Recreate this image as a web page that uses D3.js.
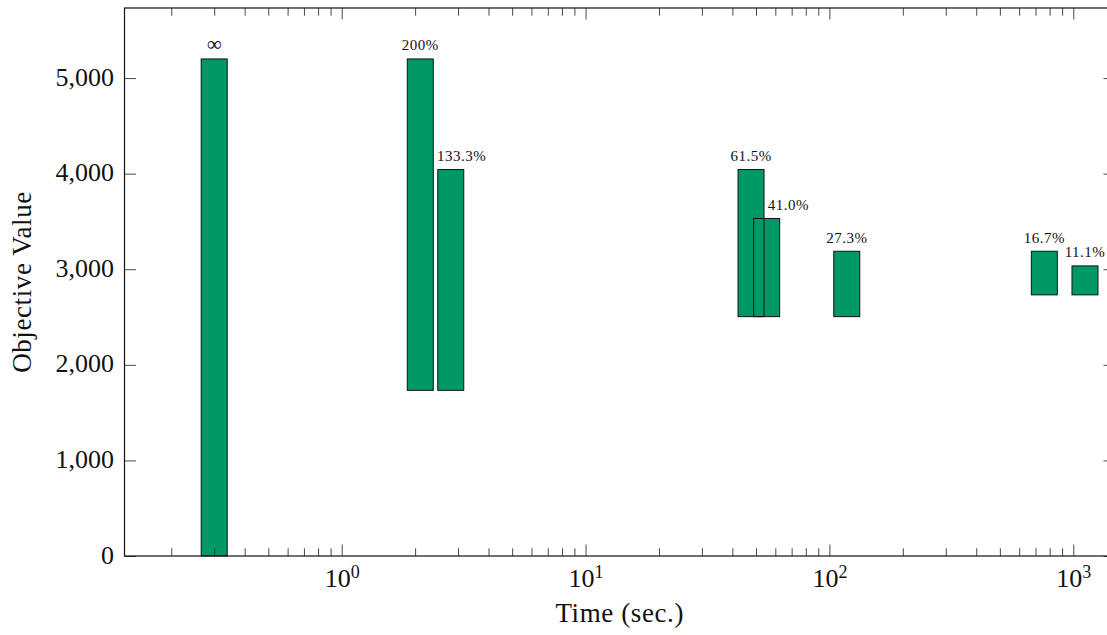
<!DOCTYPE html>
<html>
<head>
<meta charset="utf-8">
<script src="https://cdn.jsdelivr.net/npm/d3@7/dist/d3.min.js"></script>
<style>
  html, body { margin: 0; padding: 0; background: #fff; }
  svg { display: block; }
  svg text { font-family: "Liberation Serif", "Times New Roman", serif !important; fill: #111; }
</style>
</head>
<body>
<svg id="chart" width="1107" height="635"></svg>
<script>
// Solve time (seconds) of each bar
const times = [0.3, 2.1, 2.8, 47.7, 55.3, 117.8, 761, 1117];
// Lower and upper objective bounds
const lows  = [0, 1733, 1733, 2504, 2504, 2504, 2732, 2732];
const highs = [5200, 5200, 4043, 4043, 3531, 3188, 3188, 3035];
// Relative gap shown above each bar
const gapLabels = ["∞", "200%", "133.3%", "61.5%", "41.0%", "27.3%", "16.7%", "11.1%"];
// Axis ticks
const xMajorTicks = [1, 10, 100, 1000];
const yTicks = [0, 1000, 2000, 3000, 4000, 5000];
const xDomain = [0.1286, 1483];
const yDomain = [0, 5733];

const SERIF = "'Liberation Serif', 'Times New Roman', serif";
const svg = d3.select("#chart");
const plot = { left: 124.5, right: 1115, top: 8, bottom: 556 };
const barW = 26;
const majorLen = 11.5, minorLen = 7.7;

const x = d3.scaleLog().domain(xDomain).range([plot.left, plot.right]);
const y = d3.scaleLinear().domain(yDomain).range([plot.bottom, plot.top]);

// minor ticks: 2..9 times each power of ten inside the domain
const xMinorTicks = [];
for (let p = -1; p <= 3; p++) {
  for (let m = 2; m <= 9; m++) {
    const v = m * Math.pow(10, p);
    if (v >= xDomain[0] && v <= xDomain[1]) xMinorTicks.push(v);
  }
}

const bars = times.map((t, i) => ({ t, lo: lows[i], hi: highs[i], label: gapLabels[i] }));

// bar fills first, outlines afterwards so overlapping edges stay visible
const gBars = svg.append("g");
gBars.selectAll("rect.fill").data(bars).join("rect")
  .attr("class", "fill")
  .attr("x", d => x(d.t) - barW / 2)
  .attr("y", d => y(d.hi))
  .attr("width", barW)
  .attr("height", d => y(d.lo) - y(d.hi))
  .attr("fill", "#009966");
gBars.selectAll("rect.edge").data(bars).join("rect")
  .attr("class", "edge")
  .attr("x", d => x(d.t) - barW / 2)
  .attr("y", d => y(d.hi))
  .attr("width", barW)
  .attr("height", d => y(d.lo) - y(d.hi))
  .attr("fill", "none")
  .attr("stroke", "#111")
  .attr("stroke-width", 1);

// gap labels above bars; nudged right when a taller neighbour would cover them
const gLabels = svg.append("g");
bars.forEach((d, i) => {
  const isInf = d.label === "∞";
  const t = gLabels.append("text")
    .attr("x", x(d.t))
    .attr("y", y(d.hi) - (isInf ? 7.5 : 8.7))
    .attr("text-anchor", "middle")
    .style("font-family", SERIF)
    .style("font-size", isInf ? "21px" : "15px")
    .style("letter-spacing", isInf ? "0px" : "0.5px")
    .text(d.label);
  if (i > 0) {
    const prev = bars[i - 1];
    const w = t.node().getComputedTextLength();
    const prevRight = x(prev.t) + barW / 2;
    if (prev.hi > d.hi && x(d.t) - w / 2 < prevRight) {
      t.attr("text-anchor", "start").attr("x", prevRight + 3.8);
    }
  }
});

// axes
const tickStyle = g => {
  g.select(".domain").remove();
  g.attr("font-family", null);
  g.selectAll(".tick line").attr("stroke", "#333").attr("stroke-width", 0.9);
};

// bottom
svg.append("g").attr("transform", `translate(0,${plot.bottom})`)
  .call(d3.axisBottom(x).tickValues(xMinorTicks).tickSize(-minorLen).tickFormat(""))
  .call(tickStyle);
const xb = svg.append("g").attr("transform", `translate(0,${plot.bottom})`)
  .call(d3.axisBottom(x).tickValues(xMajorTicks).tickSize(-majorLen).tickFormat(""))
  .call(tickStyle);
xb.selectAll(".tick").each(function(d) {
  const txt = d3.select(this).append("text")
    .attr("y", 30.7)
    .attr("text-anchor", "middle")
    .style("font-family", SERIF)
    .style("font-size", "26px");
  txt.append("tspan").text("10");
  txt.append("tspan").attr("dy", -8.4).style("font-size", "18px")
    .text(String(Math.round(Math.log10(d))));
});

// top (mirrored)
svg.append("g").attr("transform", `translate(0,${plot.top})`)
  .call(d3.axisTop(x).tickValues(xMinorTicks).tickSize(-minorLen).tickFormat(""))
  .call(tickStyle);
svg.append("g").attr("transform", `translate(0,${plot.top})`)
  .call(d3.axisTop(x).tickValues(xMajorTicks).tickSize(-majorLen).tickFormat(""))
  .call(tickStyle);

// left
const yl = svg.append("g").attr("transform", `translate(${plot.left},0)`)
  .call(d3.axisLeft(y).tickValues(yTicks).tickSize(-majorLen).tickPadding(10.5)
    .tickFormat(d3.format(",")))
  .call(tickStyle);
yl.selectAll(".tick text")
  .attr("dy", "0.27em")
  .attr("fill", "#111")
  .style("font-size", "26px")
  .style("font-family", SERIF);

// right (mirrored)
svg.append("g").attr("transform", `translate(${plot.right},0)`)
  .call(d3.axisRight(y).tickValues(yTicks).tickSize(-majorLen).tickFormat(""))
  .call(tickStyle);

// frame
svg.append("rect")
  .attr("x", plot.left).attr("y", plot.top)
  .attr("width", plot.right - plot.left).attr("height", plot.bottom - plot.top)
  .attr("fill", "none").attr("stroke", "#111").attr("stroke-width", 1.2);

// axis titles
svg.append("text")
  .attr("x", (plot.left + plot.right) / 2)
  .attr("y", 622.3)
  .attr("text-anchor", "middle")
  .style("font-family", SERIF)
  .style("font-size", "27px")
  .style("letter-spacing", "0.6px")
  .text("Time (sec.)");
svg.append("text")
  .attr("transform", `translate(31,${(plot.top + plot.bottom) / 2}) rotate(-90)`)
  .attr("text-anchor", "middle")
  .style("font-family", SERIF)
  .style("font-size", "27px")
  .style("letter-spacing", "0.6px")
  .text("Objective Value");
</script>
</body>
</html>
